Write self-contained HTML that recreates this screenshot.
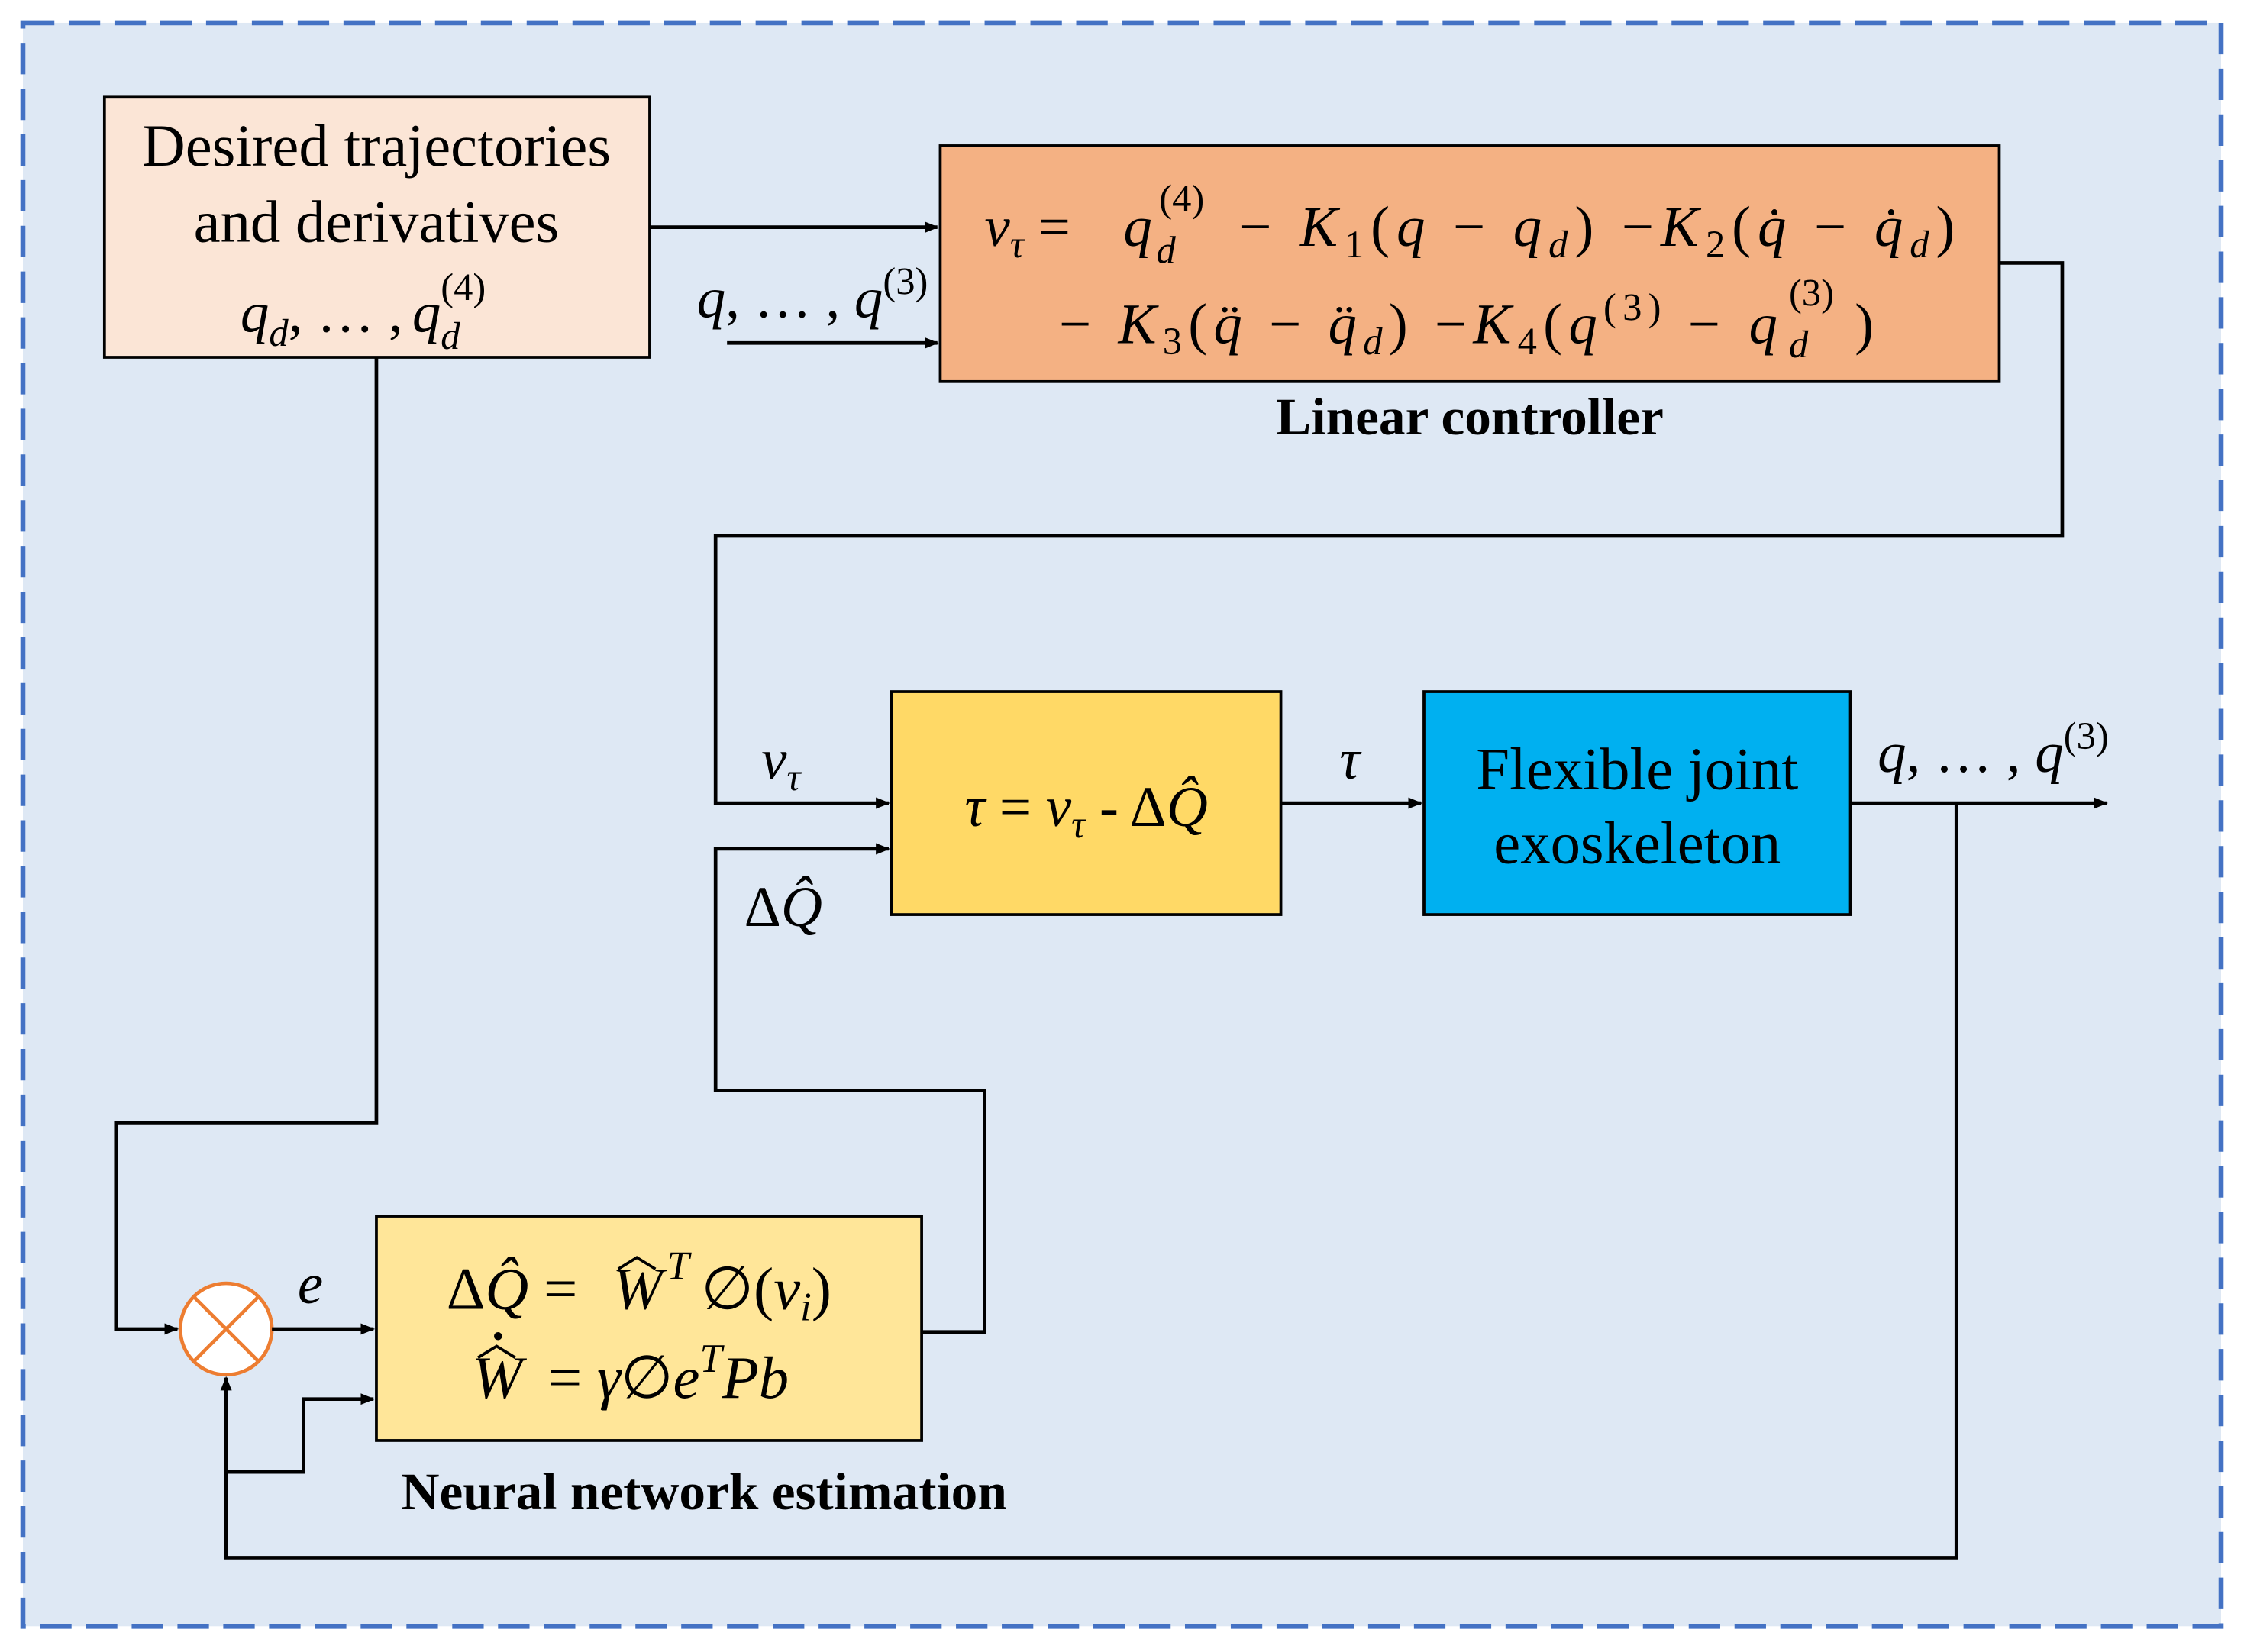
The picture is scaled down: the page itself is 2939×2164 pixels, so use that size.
<!DOCTYPE html>
<html><head><meta charset="utf-8"><style>
html,body{margin:0;padding:0;background:#fff;}
svg{display:block;}
text{font-family:"Liberation Serif",serif;fill:#000;}
.m{font-style:italic;}
</style></head><body>
<svg width="2939" height="2164" viewBox="0 0 1568 1156" preserveAspectRatio="none" xmlns="http://www.w3.org/2000/svg">
<defs>
<marker id="a" markerWidth="10" markerHeight="8" refX="9" refY="4" orient="auto" markerUnits="userSpaceOnUse">
<path d="M0,0 L10,4 L0,8 Z" fill="#000"/></marker>
</defs>
<rect x="0" y="0" width="1568" height="1156" fill="#fff"/>
<rect x="16" y="16" width="1536" height="1122" fill="#dee8f4" stroke="#4472c4" stroke-width="3.5" stroke-dasharray="22,10"/>

<rect x="73" y="68" width="381" height="182" fill="#fbe5d6" stroke="#000" stroke-width="2"/>
<rect x="657" y="102" width="740" height="165" fill="#f4b183" stroke="#000" stroke-width="2"/>
<rect x="623" y="484" width="272" height="156" fill="#ffd966" stroke="#000" stroke-width="2"/>
<rect x="995" y="484" width="298" height="156" fill="#00b0f0" stroke="#000" stroke-width="2"/>
<rect x="263" y="851" width="381" height="157" fill="#ffe699" stroke="#000" stroke-width="2"/>
<circle cx="158" cy="930" r="32" fill="#fff" stroke="#ed7d31" stroke-width="2.5"/>
<path d="M135,907 L181,953 M181,907 L135,953" stroke="#ed7d31" stroke-width="2.5"/>

<g fill="none" stroke="#000" stroke-width="2.5">
<path d="M454,159 L655,159" marker-end="url(#a)"/>
<path d="M508,240 L655,240" marker-end="url(#a)"/>
<path d="M1397,184 L1441,184 L1441,375 L500,375 L500,562 L621,562" marker-end="url(#a)"/>
<path d="M644,932 L688,932 L688,763 L500,763 L500,594 L621,594" marker-end="url(#a)"/>
<path d="M895,562 L993,562" marker-end="url(#a)"/>
<path d="M1293,562 L1472,562" marker-end="url(#a)"/>
<path d="M1367,562 L1367,1090 L158,1090 L158,964" marker-end="url(#a)"/>
<path d="M263,250 L263,786 L81,786 L81,930 L124,930" marker-end="url(#a)"/>
<path d="M190,930 L261,930" marker-end="url(#a)"/>
<path d="M158,1030 L212,1030 L212,979 L261,979" marker-end="url(#a)"/>
</g>

<!-- desired box -->
<text x="263" y="116" font-size="42" text-anchor="middle">Desired trajectories</text>
<text x="263" y="169" font-size="42" text-anchor="middle">and derivatives</text>
<text x="168" y="232" font-size="40" class="m">q<tspan font-size="27" dy="10">d</tspan><tspan dy="-10" font-style="normal">, … ,</tspan></text>
<text x="288" y="232" font-size="40" class="m">q</text>
<text x="308" y="210" font-size="27">(4)</text>
<text x="308" y="244" font-size="27" class="m">d</text>

<!-- linear controller -->
<text x="688" y="172" font-size="40" class="m">v<tspan font-size="27" dy="8">τ</tspan><tspan dy="-8" font-style="normal"> =</tspan></text>
<text x="785" y="172" font-size="40" class="m">q</text>
<text x="810" y="148" font-size="27">(4)</text>
<text x="808" y="184" font-size="27" class="m">d</text>
<text x="866" y="172" font-size="40" textLength="500" lengthAdjust="spacing">− <tspan font-style="italic">K</tspan><tspan font-size="27" dy="8">1</tspan><tspan dy="-8">(</tspan><tspan font-style="italic">q</tspan> − <tspan font-style="italic">q</tspan><tspan font-size="27" dy="8" font-style="italic">d</tspan><tspan dy="-8">) −</tspan><tspan font-style="italic">K</tspan><tspan font-size="27" dy="8">2</tspan><tspan dy="-8">(</tspan><tspan font-style="italic">q̇</tspan> − <tspan font-style="italic">q̇</tspan><tspan font-size="27" dy="8" font-style="italic">d</tspan><tspan dy="-8">)</tspan></text>
<text x="740" y="240" font-size="40" textLength="462" lengthAdjust="spacing">− <tspan font-style="italic">K</tspan><tspan font-size="27" dy="8">3</tspan><tspan dy="-8">(</tspan><tspan font-style="italic">q̈</tspan> − <tspan font-style="italic">q̈</tspan><tspan font-size="27" dy="8" font-style="italic">d</tspan><tspan dy="-8">) −</tspan><tspan font-style="italic">K</tspan><tspan font-size="27" dy="8">4</tspan><tspan dy="-8">(</tspan><tspan font-style="italic">q</tspan><tspan font-size="27" dy="-16">(3)</tspan><tspan dy="16"> −</tspan></text>
<text x="1222" y="240" font-size="40" class="m">q</text>
<text x="1250" y="214" font-size="27">(3)</text>
<text x="1250" y="250" font-size="27" class="m">d</text>
<text x="1296" y="240" font-size="40">)</text>
<text x="1027" y="304" font-size="37" font-weight="bold" text-anchor="middle">Linear controller</text>

<text x="487" y="222" font-size="40" class="m">q<tspan font-style="normal">, … , </tspan>q<tspan font-size="27" dy="-16" font-style="normal">(3)</tspan></text>

<!-- tau box -->
<text x="759" y="578" font-size="40" text-anchor="middle"><tspan class="m">τ</tspan> = <tspan class="m">v</tspan><tspan font-size="27" dy="8" class="m">τ</tspan><tspan dy="-8"> - Δ</tspan><tspan class="m">Q̂</tspan></text>
<text x="532" y="545" font-size="40" class="m">v<tspan font-size="27" dy="8">τ</tspan></text>
<text x="520" y="648" font-size="40">Δ<tspan class="m">Q̂</tspan></text>
<text x="936" y="545" font-size="40" class="m">τ</text>

<!-- flexible -->
<text x="1144" y="552" font-size="42" text-anchor="middle">Flexible joint</text>
<text x="1144" y="604" font-size="42" text-anchor="middle">exoskeleton</text>
<text x="1312" y="540" font-size="40" class="m">q<tspan font-style="normal">, … , </tspan>q<tspan font-size="27" dy="-16" font-style="normal">(3)</tspan></text>

<!-- NN -->
<text x="312" y="916" font-size="42">Δ<tspan class="m">Q̂</tspan> =</text>
<text x="428" y="916" font-size="42" class="m">W</text>
<path d="M432,888 L445,880 L458,888" fill="none" stroke="#000" stroke-width="2"/>
<text x="466" y="895" font-size="28" class="m">T</text>
<text x="490" y="916" font-size="42">∅(<tspan class="m">v</tspan><tspan font-size="28" dy="8" class="m">i</tspan><tspan dy="-8">)</tspan></text>
<text x="330" y="978" font-size="42" class="m">W</text>
<path d="M334,950 L347,942 L360,950" fill="none" stroke="#000" stroke-width="2"/>
<circle cx="348" cy="935" r="2.8" fill="#000"/>
<text x="383" y="978" font-size="42">= <tspan class="m">γ</tspan>∅<tspan class="m">e</tspan><tspan font-size="28" dy="-18" class="m">T</tspan><tspan dy="18" class="m">Pb</tspan></text>
<text x="208" y="912" font-size="40" class="m">e</text>
<text x="492" y="1056" font-size="37" font-weight="bold" text-anchor="middle">Neural network estimation</text>
</svg>
</body></html>
